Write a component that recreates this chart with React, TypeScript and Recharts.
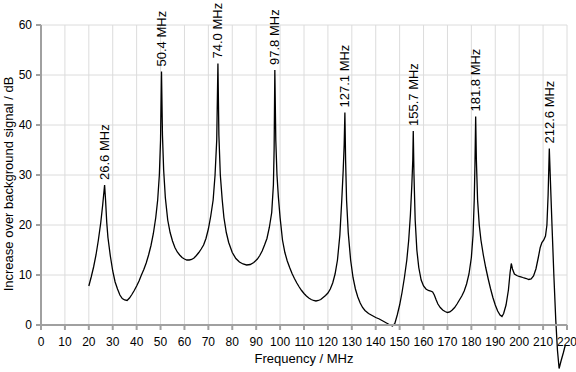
import { CartesianGrid, LabelList, Line, LineChart, XAxis, YAxis } from 'recharts';

// frequency (MHz) and level (dB)
const FREQ = [
  20, 21, 22, 23, 24, 25, 25.8, 26.3, 26.6, 27, 27.5, 28, 29, 30, 31, 32, 33, 34, 35, 36,
  37, 38, 39, 40, 41, 42, 43, 44, 45, 46, 47, 48, 48.8, 49.5, 50, 50.4, 50.8, 51.3, 52, 53,
  54, 55, 56, 57, 58, 59, 60, 61, 62, 63, 64, 65, 66, 67, 68, 69, 70, 71, 72, 72.8,
  73.5, 74, 74.4, 75, 75.8, 76.5, 77.5, 78.5, 80, 81.5, 83, 84.5, 86, 87.5, 89, 90.5, 91.5, 92.5, 93.5, 94.5,
  95.5, 96.5, 97.2, 97.5, 97.8, 98.2, 98.7, 99.3, 100, 101, 102, 103, 104, 105, 106, 107, 108, 109, 110, 111,
  112, 113, 114, 115, 116, 117, 118, 119, 120, 121, 122, 123, 124, 125, 125.8, 126.4, 126.8, 127.1, 127.4, 127.8,
  128.5, 129.5, 130.5, 131.5, 132.5, 133.5, 134.5, 135.5, 137, 138.5, 140, 141.5, 143, 144.5, 146, 147, 148, 149, 150, 151,
  152, 153, 153.8, 154.5, 155.1, 155.5, 155.7, 156, 156.5, 157.2, 158, 159, 160, 161, 162, 163, 163.8, 164.5, 165.3, 166,
  167, 168, 169, 170, 171, 172, 173, 174, 175, 176, 177, 178, 179, 180, 180.7, 181.2, 181.5, 181.8, 182.1, 182.6,
  183.3, 184, 185, 186, 187, 188, 189, 190, 191, 192, 192.8, 193.5, 194.5, 195.5, 196.2, 196.7, 197.2, 198, 199, 200,
  201, 202, 203, 204, 205, 206, 207, 208, 208.8, 209.5, 210.3, 211, 211.6, 212.1, 212.6, 213.2, 213.8, 214.5, 215.3, 216,
  216.7, 217.5, 218.5, 219.3,
];

const DB = [
  7.8, 9.6, 11.6, 14.0, 17.0, 20.5, 24.0, 26.5, 28.0, 25.0, 20.5, 17.5, 13.8, 10.8, 8.6, 7.2, 6.0, 5.3, 5.0, 4.9,
  5.4, 6.1, 6.9, 7.8, 8.8, 10.0, 11.1, 12.4, 14.0, 15.9, 18.3, 21.5, 25.0, 30.0, 37.0, 50.7, 38.0, 31.0, 25.5, 21.0,
  18.5, 16.8, 15.5, 14.6, 14.0, 13.5, 13.2, 13.0, 13.0, 13.1, 13.4, 13.9, 14.5, 15.2, 16.0, 17.3, 19.2, 21.8, 25.0, 30.0,
  37.0, 52.3, 38.0, 30.0, 25.0, 21.5, 18.5, 16.5, 14.5, 13.3, 12.6, 12.2, 12.0, 12.1, 12.5, 13.2, 13.9, 14.8, 16.0, 17.3,
  19.5, 22.5, 28.0, 35.0, 51.0, 37.0, 30.0, 25.5, 21.5, 17.0, 14.5, 12.8, 11.5, 10.3, 9.3, 8.4, 7.6, 6.9, 6.3, 5.8,
  5.4, 5.1, 4.9, 4.8, 4.9, 5.1, 5.5, 5.9, 6.4, 7.2, 8.4, 10.2, 13.0, 18.0, 25.0, 31.0, 36.0, 42.5, 33.0, 25.0,
  18.5, 13.0, 9.5, 7.2, 5.6, 4.4, 3.5, 2.9, 2.3, 1.9, 1.5, 1.2, 0.8, 0.4, 0.0, -0.2, 0.3, 2.0, 4.0, 6.5,
  9.5, 13.0, 17.0, 22.0, 28.0, 33.0, 38.8, 30.0, 21.0, 15.0, 11.5, 9.0, 7.8, 7.2, 6.9, 6.8, 6.6, 6.0, 5.0, 4.2,
  3.5, 3.0, 2.7, 2.5, 2.6, 3.0, 3.5, 4.2, 5.0, 5.8, 6.8, 8.2, 10.2, 13.5, 18.0, 25.0, 32.0, 41.7, 33.0, 25.0,
  20.0, 17.0, 14.0, 11.5, 9.3, 7.3, 5.5, 4.0, 2.8, 2.0, 1.7, 2.3, 4.0, 7.0, 10.5, 12.3, 11.2, 10.2, 9.9, 9.7,
  9.6, 9.4, 9.3, 9.1, 9.2, 9.8, 11.2, 13.5, 15.5, 16.5, 17.0, 17.8, 20.0, 26.0, 35.3, 27.0, 19.0, 10.0, 1.0, -5.0,
  -8.7, -7.2, -5.5, -4.0,
];

const PEAK_FREQS = [26.6, 50.4, 74.0, 97.8, 127.1, 155.7, 181.8, 212.6];
const PEAK_LABELS = ['26.6 MHz', '50.4 MHz', '74.0 MHz', '97.8 MHz', '127.1 MHz', '155.7 MHz', '181.8 MHz', '212.6 MHz'];

const X_TICKS = [0, 10, 20, 30, 40, 50, 60, 70, 80, 90, 100, 110, 120, 130, 140, 150, 160, 170, 180, 190, 200, 210, 220];
const Y_TICKS = [0, 10, 20, 30, 40, 50, 60];

const data = FREQ.map((f, i) => ({ f, db: DB[i] }));

const FONT = '"Liberation Sans", Arial, sans-serif';
const AXIS_GRAY = '#a0a0a0';

function PeakLabel(props: any) {
  const { x, y, index } = props;
  const peak = PEAK_FREQS.indexOf(FREQ[index]);
  if (peak < 0) return null;
  const ty = y - 5;
  return (
    <text
      x={x}
      y={ty}
      dy="0.35em"
      transform={`rotate(-90 ${x} ${ty})`}
      textAnchor="start"
      fontSize={13}
      fontFamily={FONT}
      fill="#000"
    >
      {PEAK_LABELS[peak]}
    </text>
  );
}

function YTitle(props: any) {
  const vb = props.viewBox || { x: 0, y: 25, height: 300 };
  const x = vb.x + 8;
  const y = vb.y + vb.height / 2 + 9;
  return (
    <text
      x={x}
      y={y}
      transform={`rotate(-90 ${x} ${y})`}
      textAnchor="middle"
      dominantBaseline="central"
      fontSize={13}
      fontFamily={FONT}
      fill="#000"
    >
      Increase over background signal / dB
    </text>
  );
}

export default function App() {
  return (
    <div style={{ width: 576, height: 372, fontFamily: FONT }}>
      <style>{`
        body { margin: 0; }
        .recharts-line, .recharts-line * { clip-path: none !important; }
        .recharts-surface { overflow: visible; }
      `}</style>
      <LineChart width={576} height={372} data={data} margin={{ top: 25, right: 9, left: 0, bottom: 0 }}>
        <CartesianGrid stroke="#dcdcdc" strokeWidth={1} />
        <XAxis
          dataKey="f"
          type="number"
          domain={[0, 220]}
          ticks={X_TICKS}
          interval={0}
          height={47}
          stroke={AXIS_GRAY}
          strokeWidth={2}
          tickSize={5}
          tickMargin={7}
          tick={{ fill: '#000', fontSize: 12, fontFamily: FONT }}
          label={{ value: 'Frequency / MHz', position: 'insideBottom', offset: 9, fill: '#000', fontSize: 13, fontFamily: FONT }}
        />
        <YAxis
          type="number"
          domain={[0, 60]}
          allowDataOverflow
          ticks={Y_TICKS}
          interval={0}
          width={41}
          stroke={AXIS_GRAY}
          strokeWidth={2}
          tickSize={5}
          tickMargin={4}
          tick={{ fill: '#000', fontSize: 12, fontFamily: FONT }}
          label={<YTitle />}
        />
        <Line
          type="linear"
          dataKey="db"
          stroke="#000"
          strokeWidth={1.3}
          dot={false}
          activeDot={false}
          isAnimationActive={false}
        >
          <LabelList dataKey="db" content={<PeakLabel />} />
        </Line>
      </LineChart>
    </div>
  );
}
